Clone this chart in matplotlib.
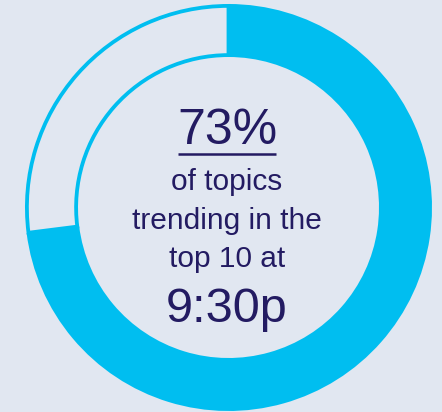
import matplotlib
matplotlib.use("Agg")
import matplotlib.pyplot as plt

# Data: share of topics trending in the top 10.
labels = ["Trending", "Not trending"]
shares = [73, 27]
headline = "73%"
caption_lines = ["of topics", "trending in the", "top 10 at"]
time_label = "9:30p"

BLUE = "#00BEF0"
BG = "#E1E7F1"
INK = "#231B62"

W, H = 442, 412
fig = plt.figure(figsize=(W / 100, H / 100), dpi=100, facecolor=BG)
ax = fig.add_axes([0, 0, 1, 1])
ax.set_facecolor(BG)

# Donut geometry in pixel units (y up).
cx, cy = 228.5, 412 - 207.5
r_out, ring = 203.5, 53

wedges, _ = ax.pie(shares, colors=[BLUE, BG], startangle=90, counterclock=False,
                   radius=r_out, center=(cx, cy),
                   wedgeprops=dict(width=ring, linewidth=0))

# Remaining share only shows as a thin outline.
rest = wedges[1]
lw_px = 3.8
rest.set_radius(r_out - lw_px / 2)
rest.set_width(ring - lw_px)
rest.set_edgecolor(BLUE)
rest.set_linewidth(lw_px * 0.72)

ax.set_xlim(0, W)
ax.set_ylim(0, H)
ax.set_aspect("equal")
ax.axis("off")

font = "Liberation Sans"
tx = 227
big = ax.text(tx, H - 144, headline, ha="center", va="baseline",
              fontsize=36, color=INK, family=font)
for i, line in enumerate(caption_lines):
    ax.text(tx, H - (190 + i * 38.5), line, ha="center", va="baseline",
            fontsize=21.5, color=INK, family=font)
ax.text(tx, H - 322, time_label, ha="center", va="baseline",
        fontsize=35, color=INK, family=font)

# Underline below the headline, sized from the text itself.
fig.canvas.draw()
bb = big.get_window_extent().transformed(ax.transData.inverted())
ax.plot([bb.x0 + 1, bb.x1 - 1], [H - 154, H - 154], color=INK, linewidth=1.8,
        solid_capstyle="butt")

fig.savefig("out.png", dpi=100, facecolor=BG)
